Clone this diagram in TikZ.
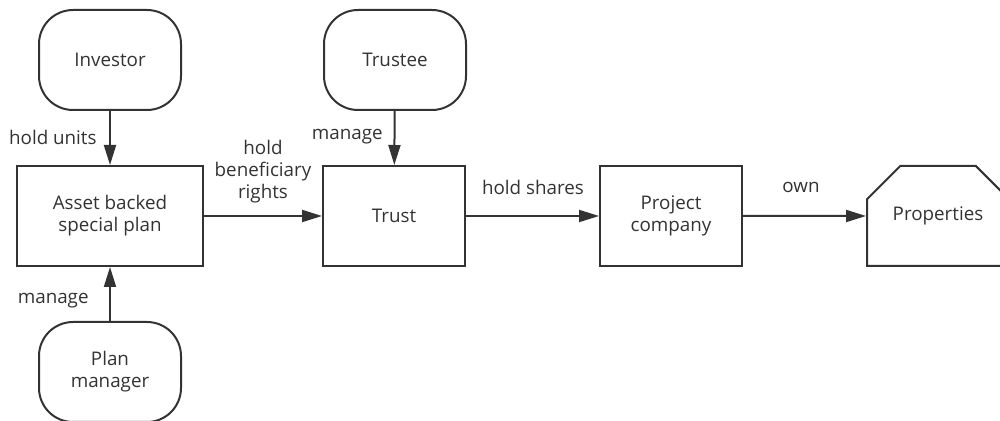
\documentclass[tikz,border=0pt]{standalone}
\usepackage{fontspec}
\setmainfont{Open Sans}
\usetikzlibrary{shapes.misc,arrows.meta}
\definecolor{ink}{HTML}{333333}

\begin{document}
\begin{tikzpicture}[x=0.5pt,y=-0.5pt,
  box/.style={draw=ink, line width=1pt, text=ink, align=center,
    minimum width=71pt, minimum height=50pt, inner sep=0pt,
    font=\fontsize{9.4}{11}\selectfont},
  party/.style={box, rounded corners=17pt},
  flow/.style={draw=ink, line width=1pt, -{Triangle[length=10pt,width=6pt]}},
  lbl/.style={text=ink, align=center, inner sep=0pt,
    font=\fontsize{9.4}{11}\selectfont}]

\useasboundingbox (0,0) rectangle (1000,421);
\clip (0,0) rectangle (1000,421);

% Parties outside the structure
\node[party] (inv) at (110,60) {Investor};
\node[party] (tee) at (395,60) {Trustee};
\node[party] (pm) at (110,372) {Plan\\manager};

% Vehicles along the holding chain
\node[box, minimum width=93pt] (abs) at (110,216) {Asset backed\\special plan};
\node[box] (trust) at (394,216) {Trust};
\node[box] (proj) at (671,216) {Project\\company};
\node[box, chamfered rectangle, chamfered rectangle corners={north west,north east},
  chamfered rectangle xsep=12pt, chamfered rectangle ysep=12pt] (prop) at (938,216) {Properties};

% Arrows
\draw[flow] (inv) -- (abs);
\draw[flow] (pm) -- (abs);
\draw[flow] (tee) -- (trust);
\draw[flow] (abs) -- (trust);
\draw[flow] (trust) -- (proj);
\draw[flow] (proj) -- (prop);

% Arrow labels
\node[lbl, anchor=east] (lunits) at (97,137) {hold units};
\node[lbl, anchor=east] (lpm) at (89,301) {manage};
\node[lbl, anchor=east] (ltee) at (383,137) {manage};
\node[lbl] (lrights) at (263,172) {hold\\beneficiary\\rights};
\node[lbl] (lshares) at (533,187) {hold shares};
\node[lbl] (lown) at (801,187) {own};

\end{tikzpicture}
\end{document}
